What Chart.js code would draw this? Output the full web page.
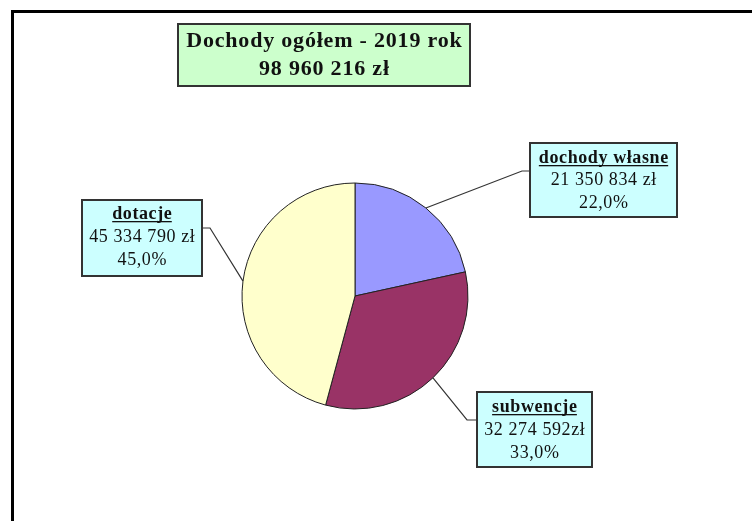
<!DOCTYPE html>
<html>
<head>
<meta charset="utf-8">
<script src="https://cdn.jsdelivr.net/npm/chart.js@4/dist/chart.umd.min.js"></script>
<style>
  html, body { margin: 0; padding: 0; background: #fff; }
  #wrap { position: relative; width: 752px; height: 521px; overflow: hidden; }
  #frame { position: absolute; left: 11px; top: 10px; width: 800px; height: 600px;
           border-left: 3px solid #000; border-top: 3px solid #000; }
  canvas { position: absolute; left: 0; top: 0; }
</style>
</head>
<body>
<div id="wrap">
  <div id="frame"></div>
  <canvas id="c" width="752" height="521"></canvas>
</div>
<script>
// ---- data ----
const categories = ['dochody własne', 'subwencje', 'dotacje'];
const values = [21350834, 32274592, 45334790];
const amountLabels = ['21 350 834 zł', '32 274 592zł', '45 334 790 zł'];
const percentLabels = ['22,0%', '33,0%', '45,0%'];
const titleLines = ['Dochody ogółem - 2019 rok', '98 960 216 zł'];

// ---- styles / layout ----
const sliceColors = ['#9999FF', '#993366', '#FFFFCC'];
const labelBoxes = [
  { x: 530, y: 143, w: 147, h: 74, ax: 530, ay: 171, ex: 522, ey: 171, base: [163, 185, 208] },
  { x: 477, y: 392, w: 115, h: 75, ax: 477, ay: 420, ex: 467, ey: 420, base: [412, 435, 458] },
  { x: 82,  y: 200, w: 120, h: 76, ax: 202, ay: 228, ex: 210, ey: 228, base: [219, 242, 265] }
];
const titleBox = { x: 178, y: 24, w: 292, h: 62, base: [47, 75] };
const serif = '"Liberation Serif", "Times New Roman", serif';

function centeredText(ctx, text, cx, y, spacing) {
  ctx.letterSpacing = spacing + 'px';
  const w = ctx.measureText(text).width - spacing;
  ctx.textAlign = 'left';
  ctx.fillText(text, cx - w / 2, y);
  ctx.letterSpacing = '0px';
  return w;
}

const labelPlugin = {
  id: 'labelBoxes',
  afterDatasetsDraw(chart) {
    const ctx = chart.ctx;
    const meta = chart.getDatasetMeta(0);
    ctx.save();
    // title box
    ctx.fillStyle = '#CCFFCC';
    ctx.fillRect(titleBox.x, titleBox.y, titleBox.w, titleBox.h);
    ctx.strokeStyle = '#333';
    ctx.lineWidth = 2;
    ctx.strokeRect(titleBox.x, titleBox.y, titleBox.w, titleBox.h);
    ctx.fillStyle = '#111';
    ctx.textBaseline = 'alphabetic';
    ctx.font = 'bold 22px ' + serif;
    const tcx = titleBox.x + titleBox.w / 2;
    titleLines.forEach((t, i) => centeredText(ctx, t, tcx, titleBox.base[i], 0.8));

    meta.data.forEach((arc, i) => {
      const b = labelBoxes[i];
      const p = arc.getProps(['x', 'y', 'startAngle', 'endAngle', 'outerRadius'], true);
      const mid = (p.startAngle + p.endAngle) / 2;
      const sx = p.x + Math.cos(mid) * p.outerRadius;
      const sy = p.y + Math.sin(mid) * p.outerRadius;
      // leader
      ctx.strokeStyle = '#333';
      ctx.lineWidth = 1.2;
      ctx.beginPath();
      ctx.moveTo(sx, sy);
      ctx.lineTo(b.ex, b.ey);
      ctx.lineTo(b.ax, b.ay);
      ctx.stroke();
      // box
      ctx.fillStyle = '#CCFFFF';
      ctx.fillRect(b.x, b.y, b.w, b.h);
      ctx.strokeStyle = '#333';
      ctx.lineWidth = 2;
      ctx.strokeRect(b.x, b.y, b.w, b.h);
      // text
      const cx = b.x + b.w / 2;
      ctx.fillStyle = '#111';
      ctx.font = 'bold 18px ' + serif;
      const tw = centeredText(ctx, categories[i], cx, b.base[0], 0.6);
      ctx.fillRect(cx - tw / 2, b.base[0] + 2, tw, 1.3);
      ctx.font = '18px ' + serif;
      centeredText(ctx, amountLabels[i], cx, b.base[1], 0.6);
      centeredText(ctx, percentLabels[i], cx, b.base[2], 0.6);
    });
    ctx.restore();
  }
};

new Chart(document.getElementById('c'), {
  type: 'pie',
  data: {
    labels: categories,
    datasets: [{
      data: values,
      backgroundColor: sliceColors,
      borderColor: '#222',
      borderWidth: 1
    }]
  },
  options: {
    responsive: false,
    animation: false,
    radius: 113,
    layout: { padding: { left: 200, right: 242, top: 160, bottom: 89 } },
    plugins: { legend: { display: false }, tooltip: { enabled: false }, title: { display: false } }
  },
  plugins: [labelPlugin]
});
</script>
</body>
</html>
